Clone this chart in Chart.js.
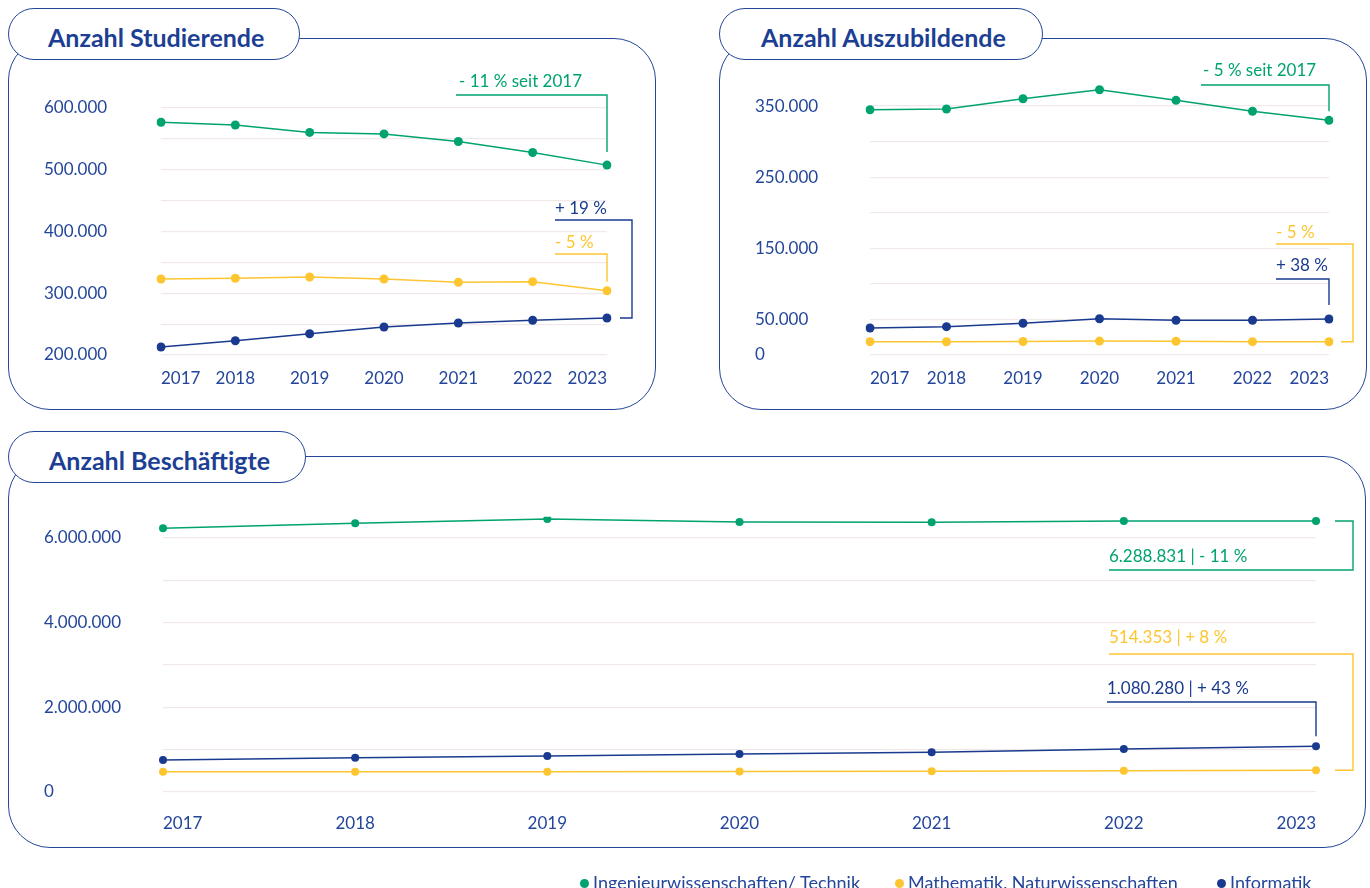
<!DOCTYPE html>
<html lang="de">
<head>
<meta charset="utf-8">
<title>Anzahl Studierende, Auszubildende, Beschäftigte</title>
<script src="https://cdn.jsdelivr.net/npm/chart.js@4.4.1/dist/chart.umd.min.js"></script>
<style>
  html, body { margin: 0; padding: 0; background: #fff; }
  body { width: 1370px; height: 888px; position: relative; overflow: hidden; font-family: Lato, sans-serif; }
  .card { position: absolute; box-sizing: border-box; border: 1.6px solid #24469a; border-radius: 42px; background: #fff; }
  .pill { position: absolute; box-sizing: border-box; border: 1.6px solid #24469a; border-radius: 27px; background: #fff;
          color: #1d3f93; font-weight: 700; font-size: 25px; line-height: 52px; padding-top: 2px; }
  canvas { position: absolute; left: 0; top: 0; }
  #legend { position: absolute; top: 871px; left: 0; height: 22px; }
  .item { position: absolute; top: 0; white-space: nowrap; display: flex; align-items: center; color: #24469a; font-size: 18px; line-height: 22px; }
  .dot { width: 9px; height: 9px; border-radius: 50%; margin-right: 4px; margin-top: 3px; }
</style>
</head>
<body>
<div class="card" style="left:8px; top:38px; width:648px; height:372px;"></div>
<div class="pill" style="left:8px; top:8px; width:292px; height:52px; padding-left:39px;">Anzahl Studierende</div>

<div class="card" style="left:719px; top:38px; width:648px; height:372px;"></div>
<div class="pill" style="left:719px; top:8px; width:324px; height:52px; padding-left:41px;">Anzahl Auszubildende</div>

<div class="card" style="left:8px; top:456px; width:1358px; height:392px;"></div>
<div class="pill" style="left:8px; top:431px; width:298px; height:52px; padding-left:40px;">Anzahl Beschäftigte</div>

<canvas id="chartStud" width="1370" height="888"></canvas>
<canvas id="chartAzubi" width="1370" height="888"></canvas>
<canvas id="chartBesc" width="1370" height="888"></canvas>
<div id="legend"></div>

<script>
// Data
const years = ['2017', '2018', '2019', '2020', '2021', '2022', '2023'];
const seriesNames = ['Ingenieurwissenschaften/ Technik', 'Mathematik, Naturwissenschaften', 'Informatik'];

const studIng  = [577000, 572500, 560500, 558000, 545700, 528000, 507500];
const studMath = [323000, 324200, 326300, 323000, 317800, 318800, 304000];
const studInf  = [213000, 223000, 234400, 245300, 251800, 256200, 260000];
const studNotes = ['- 11 % seit 2017', '- 5 %', '+ 19 %'];
const studGrid   = [200000, 250000, 300000, 350000, 400000, 450000, 500000, 550000, 600000];
const studLabels = [200000, 300000, 400000, 500000, 600000];

const azubiIng  = [344800, 345800, 360300, 372900, 358000, 342600, 329900];
const azubiMath = [18800, 18700, 18900, 19600, 19300, 18800, 18600];
const azubiInf  = [38000, 39800, 44600, 51000, 48800, 48800, 50600];
const azubiNotes = ['- 5 % seit 2017', '- 5 %', '+ 38 %'];
const azubiGrid   = [0, 50000, 100000, 150000, 200000, 250000, 300000, 350000];
const azubiLabels = [0, 50000, 150000, 250000, 350000];

const bescIng  = [6230000, 6350000, 6450000, 6380000, 6370000, 6400000, 6400000];
const bescMath = [476000, 478000, 481000, 487000, 492000, 503000, 514353];
const bescInf  = [755000, 810000, 850000, 898000, 938000, 1016000, 1080280];
const bescNotes = ['6.288.831 | - 11 %', '514.353 | + 8 %', '1.080.280 | + 43 %'];
const bescGrid   = [0, 1000000, 2000000, 3000000, 4000000, 5000000, 6000000];
const bescLabels = [0, 2000000, 4000000, 6000000];

// Styles
const GREEN = 'rgb(0, 163, 112)';
const YELLOW = 'rgb(253, 197, 48)';
const NAVY = 'rgb(25, 58, 143)';
const TEXT = '#24469a';
const GRID = '#f1e9e9';
const seriesColors = [GREEN, YELLOW, NAVY];

function formatDE(v) {
  return String(v).replace(/\B(?=(\d{3})+(?!\d))/g, '.');
}

// draws the label + connector line for the last point of a series
const bracketPlugin = {
  id: 'brackets',
  afterDatasetsDraw(chart, args, opts) {
    const ctx = chart.ctx;
    (opts.items || []).forEach(it => {
      const meta = chart.getDatasetMeta(it.ds);
      const pt = meta.data[meta.data.length - 1];
      const color = chart.data.datasets[it.ds].borderColor;
      ctx.save();
      ctx.strokeStyle = color;
      ctx.lineWidth = 1.4;
      ctx.beginPath();
      ctx.moveTo(it.x0, it.y);
      if (it.side) {
        ctx.lineTo(it.side, it.y);
        ctx.lineTo(it.side, pt.y);
        ctx.lineTo(pt.x + it.gap, pt.y);
      } else {
        ctx.lineTo(pt.x, it.y);
        ctx.lineTo(pt.x, pt.y - it.gap);
      }
      ctx.stroke();
      ctx.fillStyle = color;
      ctx.font = '17px Lato';
      ctx.textBaseline = 'middle';
      ctx.fillText(it.text, it.tx, it.ty);
      ctx.restore();
    });
  }
};
Chart.register(bracketPlugin);

function makeDatasets(values, radius) {
  return values.map((vals, i) => ({
    label: seriesNames[i],
    data: vals,
    borderColor: seriesColors[i],
    backgroundColor: seriesColors[i],
    pointBackgroundColor: seriesColors[i],
    borderWidth: 1.5,
    pointRadius: radius,
    pointBorderWidth: 0,
    tension: 0
  }));
}

function makeChart(id, cfg) {
  return new Chart(document.getElementById(id), {
    type: 'line',
    data: { labels: years, datasets: makeDatasets(cfg.values, cfg.radius) },
    options: {
      responsive: false,
      animation: false,
      layout: { padding: cfg.padding },
      plugins: {
        legend: { display: false },
        tooltip: { enabled: false },
        brackets: { items: cfg.notes }
      },
      scales: {
        x: {
          offset: false,
          grid: { display: false, drawTicks: false },
          border: { display: false },
          ticks: {
            color: TEXT,
            font: { family: 'Lato', size: 17 },
            padding: cfg.xPad,
            align: 'inner',
            maxRotation: 0,
            autoSkip: false
          },
          afterFit: s => { s.height = cfg.xHeight; }
        },
        y: {
          min: cfg.min,
          max: cfg.max,
          grid: { color: GRID, lineWidth: 1.2, drawTicks: false },
          border: { display: false },
          ticks: {
            crossAlign: 'far',
            padding: 0,
            color: TEXT,
            font: { family: 'Lato', size: 17 },
            callback: v => cfg.labels.includes(v) ? formatDE(v) : ''
          },
          afterBuildTicks: s => { s.ticks = cfg.grid.map(v => ({ value: v })); },
          afterFit: s => { s.width = cfg.yWidth; }
        }
      }
    }
  });
}

makeChart('chartStud', {
  values: [studIng, studMath, studInf],
  radius: 4.5,
  min: 200000, max: 600000,
  grid: studGrid, labels: studLabels,
  padding: { left: 44, top: 108, right: 763, bottom: 493 },
  yWidth: 117, xHeight: 40, xPad: 13,
  notes: [
    { ds: 0, text: studNotes[0], tx: 459, ty: 82, x0: 456, y: 95, gap: 13 },
    { ds: 1, text: studNotes[1], tx: 555, ty: 243, x0: 555, y: 254, gap: 9 },
    { ds: 2, text: studNotes[2], tx: 555, ty: 209, x0: 555, y: 220, side: 632, gap: 13 }
  ]
});

makeChart('chartAzubi', {
  values: [azubiIng, azubiMath, azubiInf],
  radius: 4.5,
  min: 0, max: 380000,
  grid: azubiGrid, labels: azubiLabels,
  padding: { left: 755, top: 84.7, right: 41, bottom: 493 },
  yWidth: 115, xHeight: 40, xPad: 13,
  notes: [
    { ds: 0, text: azubiNotes[0], tx: 1203, ty: 71, x0: 1201, y: 85, gap: 9 },
    { ds: 1, text: azubiNotes[1], tx: 1276, ty: 233, x0: 1276, y: 244, side: 1353, gap: 12 },
    { ds: 2, text: azubiNotes[2], tx: 1276, ty: 266, x0: 1276, y: 279, gap: 14 }
  ]
});

makeChart('chartBesc', {
  values: [bescIng, bescMath, bescInf],
  radius: 4,
  min: 0, max: 6500000,
  grid: bescGrid, labels: bescLabels,
  padding: { left: 44, top: 516.8, right: 54, bottom: 51 },
  yWidth: 119, xHeight: 45, xPad: 21,
  notes: [
    { ds: 0, text: bescNotes[0], tx: 1109, ty: 557, x0: 1109, y: 570, side: 1353, gap: 19 },
    { ds: 1, text: bescNotes[1], tx: 1109, ty: 638, x0: 1109, y: 654, side: 1353, gap: 19 },
    { ds: 2, text: bescNotes[2], tx: 1107, ty: 689, x0: 1107, y: 702, gap: 10 }
  ]
});

// Legend
const legendLefts = [580, 895, 1217];
document.getElementById('legend').innerHTML = seriesNames.map((name, i) => `
  <div class="item" style="left:${legendLefts[i]}px">
    <span class="dot" style="background:${seriesColors[i]}"></span>${name}
  </div>
`).join('');
</script>
</body>
</html>
